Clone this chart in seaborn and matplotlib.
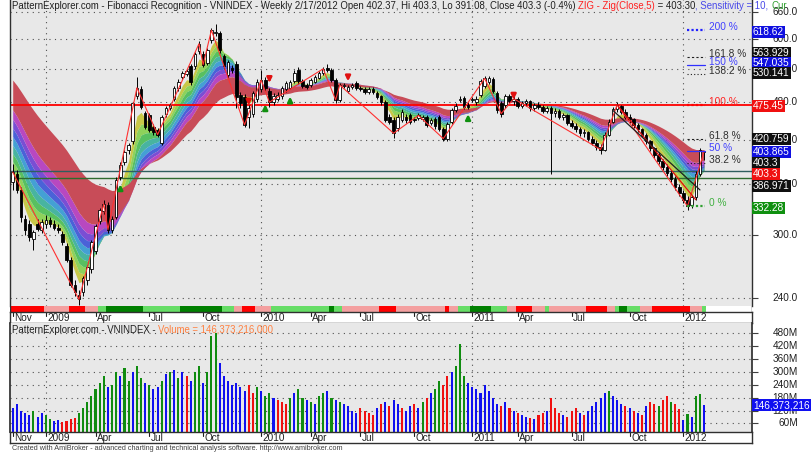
import numpy as np
import pandas as pd
import matplotlib
matplotlib.use("Agg")
import matplotlib.pyplot as plt
from matplotlib.ticker import NullLocator
import seaborn as sns

# ---------------- data (weekly bars, Nov 2008 - Feb 2012) ----------------
opens = [362,372,352,318,312,296,312,306,312,316,312,308,301,289,275,252,243,245,256,266,
         284,315,327,334,306,320,368,389,405,418,490,503,462,458,440,435,415,460,470,485,
         505,525,530,545,545,575,570,552,598,612,612,565,528,542,550,492,489,455,460,485,
         502,519,500,480,485,490,502,505,517,538,517,510,510,516,523,532,541,538,519,484,
         508,500,507,513,504,503,497,503,496,490,480,455,451,438,451,455,458,452,454,453,
         455,446,452,455,437,422,448,467,484,487,476,484,480,492,509,515,520,496,478,475,
         490,482,486,474,478,482,470,475,472,466,470,462,466,456,458,446,441,436,430,432,
         421,416,410,406,428,448,468,474,464,456,452,442,436,428,418,408,398,390,382,374,
         366,356,348,340,334,343,372,402.37]
highs = [386,378,356,322,316,306,318,318,322,320,316,312,304,292,278,256,247,260,270,295,
         312,330,340,337,321,368,388,405,416,480,525,508,466,462,444,438,458,473,478,508,
         520,536,540,550,574,596,575,582,624,632,618,570,558,548,556,498,494,475,500,520,
         538,525,504,495,497,508,518,519,537,543,521,513,522,528,535,544,550,542,522,514,
         514,510,514,517,508,506,506,506,499,493,484,460,455,460,468,460,462,456,462,459,
         458,454,456,458,440,448,470,478,490,490,480,488,490,520,526,527,524,500,482,494,
         494,490,488,482,486,484,478,480,476,474,474,470,468,462,460,450,446,440,436,434,
         426,420,414,432,452,472,480,476,468,460,454,446,438,430,420,410,402,392,386,378,
         370,360,352,344,346,376,408,403.3]
lows = [352,348,314,300,294,285,304,302,308,309,305,302,290,273,250,242,234,242,252,262,
        281,312,323,302,302,318,364,385,400,414,485,468,436,432,428,424,412,456,467,482,
        500,520,526,510,540,570,543,548,592,606,572,540,522,532,470,470,440,438,455,480,
        498,500,472,475,482,486,498,502,514,512,504,503,507,513,520,529,534,515,478,480,
        504,496,503,501,499,494,494,494,485,476,447,444,423,434,447,446,444,447,450,449,
        439,442,437,433,419,418,444,463,480,468,468,480,476,488,505,511,496,462,456,470,
        478,476,470,470,474,466,466,468,462,462,372,456,452,450,442,438,432,426,424,418,
        412,406,400,404,426,446,464,460,452,446,438,432,424,414,404,394,386,378,370,362,
        352,344,336,328,330,340,370,391.08]
closes = [375,352,320,305,298,303,307,314,316,312,308,305,293,275,252,245,239,258,268,293,
          310,328,335,306,318,365,385,403,413,478,505,472,440,435,432,428,455,470,475,505,
          515,533,535,515,570,590,548,577,619,616,577,545,553,538,488,478,443,470,495,515,
          519,505,480,490,492,505,514,515,533,517,508,507,519,525,532,540,537,519,484,510,
          510,506,510,505,503,497,503,497,488,480,451,448,430,456,464,450,448,451,458,455,
          442,451,441,437,422,445,467,474,486,472,472,485,486,518,522,523,500,467,461,490,
          482,486,474,478,482,470,475,472,466,470,462,466,456,458,446,441,436,430,432,421,
          416,410,406,428,448,468,475.45,464,456,452,442,436,428,418,408,398,390,382,374,366,
          356,348,340,332.28,343,372,404.9,403.3]
volumes = [130,150,120,110,100,120,90,110,
           100,80,70,75,
           65,70,80,85,
           110,130,160,190,220,250,
           280,230,240,300,280,320,260,300,330,270,250,240,220,
           230,260,290,300,310,270,300,280,
           260,300,330,250,300,470,480,340,
           280,260,240,250,230,210,240,200,
           230,210,190,200,180,170,160,150,
           180,200,220,180,170,160,150,190,200,210,180,170,160,
           150,140,120,110,130,120,110,100,
           130,150,160,140,170,150,130,120,140,
           150,130,160,180,200,220,260,240,280,300,330,430,280,
           250,230,220,200,240,210,180,150,
           140,160,130,120,110,100,90,85,80,
           100,110,120,180,130,110,100,90,120,130,110,100,
           120,140,160,180,200,210,190,170,150,
           140,130,120,110,100,140,160,
           150,140,170,190,160,150,128,
           76,104,90,188,197,146.4]
vol_colors = list("bbbbbgbb" "ggbb" "rrrr" "gggggg" "gbggbggbggbgb" "bgbgbgbr" "bggbgggb"
                  "bbbbbbrr" "gbggbrrr" "gbggbgbggbgbg" "bbbbrrrr" "brbrbbrbb" "rbgrbggrrbggg"
                  "bbbbbbbb" "rbrbrbbrb" "rrbrrrbrrrbr" "bbbbbgbbb" "rbrbrbr" "rgrrgrr" "bgbggb")

# ribbon: moving-average periods (fast -> slow) and their values at the first bar
ema_periods = [4, 6, 8, 10, 12, 14, 16, 18, 21, 34]
ribbon_start = [367, 378, 389, 400, 412, 425, 438, 452, 467, 519]

zz_idx = [0, 16, 22, 23, 30, 35, 45, 46, 48, 56, 60, 62, 75, 78, 79, 92, 98, 104, 114, 118, 121, 142, 146, 163, 167]
zz_val = [375, 239, 335, 306, 505, 428, 590, 548, 619, 443, 519, 480, 540, 484, 510, 430, 458, 422, 522, 461, 486, 406, 475.45, 332.28, 403.3]

# Fibonacci channel drawn across the last swing (bar index, price)
chan_red = ([146, 165], [475.45, 340])
chan_blk = ([145, 166], [466, 352])

strip_codes = ['R','P','R','P','L','G','L','G','L','P','R','P','L','G','L','P','R','P','R','P','L','G','L',
               'P','R','P','L','P','R','P','L','G','L','P','R','P','L']
strip_lens = [8,6,4,3,2,9,9,10,3,2,3,4,14,1,2,9,4,12,1,2,3,5,4,2,4,3,1,9,5,2,1,2,3,3,9,3,1]

fib_pct = ["0 %", "38.2 %", "50 %", "61.8 %", "100 %", "138.2 %", "150 %", "161.8 %", "200 %"]
fib_val = [332.28, 386.971, 403.865, 420.759, 475.45, 530.141, 547.035, 563.929, 618.62]

support_vals = [376.4, 367.1]

up_idx = [26, 61, 67, 110]
up_val = [352, 467, 480, 451]
dn_idx = [57, 62, 81, 121]
dn_val = [484, 524, 527, 494]

date_idx = [0, 8, 20, 33, 46, 60, 72, 84, 97, 111, 122, 135, 149, 162]
date_lab = ["Nov", "2009", "Apr", "Jul", "Oct", "2010", "Apr", "Jul", "Oct", "2011", "Apr", "Jul", "Oct", "2012"]
year_idx = [8, 60, 111, 162]

price_ticks = [240, 300, 360, 420, 480, 540, 600, 660]
vol_ticks = [60, 120, 180, 240, 300, 360, 420, 480]

# ---------------- style ----------------
sns.set_theme(style="white")
plt.rcParams['font.family'] = ['Liberation Sans', 'DejaVu Sans']

W, H = 812, 454
PANEL = '#e8e8e8'
GRID = dict(color='#505050', lw=0.8, linestyle=(0, (1, 4)))
fig = plt.figure(figsize=(W / 100, H / 100), dpi=100)
fig.patch.set_facecolor('white')

def rect(x0, y0, x1, y1):
    return [x0 / W, 1 - y1 / H, (x1 - x0) / W, (y1 - y0) / H]

n = len(closes)
idx = np.arange(n)
XL = (10 - 12.7) / 4.14
XR = (752 - 12.7) / 4.14
P_TOP = 600 * np.exp(39 / 283)
P_BOT = 600 * np.exp((39 - 306) / 283)

# ---------------- price panel ----------------
ax = fig.add_axes(rect(10, 0, 752, 306))
ax.set_facecolor(PANEL)
ax.set_yscale('log')
ax.set_xlim(XL, XR)
ax.set_ylim(P_BOT, P_TOP)
ax.yaxis.set_minor_locator(NullLocator())
ax.set_yticks(price_ticks)
ax.tick_params(axis='y', which='both', left=False, right=True, labelleft=False, labelright=False,
               length=4, width=0.8, color='#404040', direction='out')
ax.set_xticks([])
for s in ['top', 'bottom']:
    ax.spines[s].set_visible(False)
for s in ['left', 'right']:
    ax.spines[s].set_color('#303030')
    ax.spines[s].set_linewidth(1)
for v in price_ticks:
    ax.axhline(v, zorder=0.5, **GRID)
for i in year_idx:
    ax.axvline(i, zorder=0.5, **GRID)

# ribbon
ribbon_colors = ['#c8c848', '#8ed25a', '#58c060', '#48b4a0', '#44a0d4', '#4a62d8',
                 '#7a4ed4', '#b848c0', '#c84c58']
cl = np.array(closes, float)
emas = np.zeros((len(ema_periods), n))
for k, (per, st) in enumerate(zip(ema_periods, ribbon_start)):
    a = 2.0 / (per + 1)
    v = st
    for i in range(n):
        if i > 0:
            v = v + a * (cl[i] - v)
        emas[k, i] = v
for k in range(len(ema_periods) - 1):
    ax.fill_between(idx, emas[k], emas[k + 1], color=ribbon_colors[k], lw=0, zorder=1)

# full-width lines
ax.axhline(fib_val[4], color='#ff0000', lw=1.3, zorder=2)
ax.axhline(support_vals[0], color='#2f5f5f', lw=1.0, zorder=2)
ax.axhline(support_vals[1], color='#2e6b2e', lw=1.0, zorder=2)

# candles
op = np.array(opens, float)
hi = np.array(highs, float)
lo = np.array(lows, float)
ax.vlines(idx, lo, hi, color='black', lw=0.7, zorder=3)
up = cl >= op
body_lo = np.minimum(op, cl)
body_h = np.maximum(np.abs(cl - op), body_lo * 0.003)
ax.bar(idx[up], body_h[up], bottom=body_lo[up], width=0.62, color='white', edgecolor='black', lw=0.6, zorder=4)
ax.bar(idx[~up], body_h[~up], bottom=body_lo[~up], width=0.62, color='black', edgecolor='black', lw=0.6, zorder=4)

# zigzag
zz = pd.DataFrame({'i': zz_idx, 'v': zz_val})
sns.lineplot(data=zz, x='i', y='v', ax=ax, color='#ff3030', lw=0.8, zorder=5, legend=False)
ax.plot(*chan_red, color='#e01010', lw=0.9, zorder=5)
ax.plot(*chan_blk, color='#202020', lw=0.9, zorder=5)
ax.set_xlabel('')
ax.set_ylabel('')

# arrows
for i, v in zip(up_idx, up_val):
    ax.annotate('', xy=(i, v * 1.03), xytext=(i, v / 1.01), zorder=6,
                arrowprops=dict(arrowstyle='-|>', color='#109010', lw=1.8, mutation_scale=7))
for i, v in zip(dn_idx, dn_val):
    ax.annotate('', xy=(i, v / 1.03), xytext=(i, v * 1.01), zorder=6,
                arrowprops=dict(arrowstyle='-|>', color='#e01010', lw=1.8, mutation_scale=7))

# fib levels at right
fib_style = [('#30a030', (0, (1, 1)), 1.6), ('#202020', (0, (1, 2)), 0.8), ('#3030ff', '-', 0.9),
             ('#202020', (0, (2, 2)), 0.8), ('#ff0000', (0, (1, 1)), 1.6), ('#202020', (0, (1, 2)), 0.8),
             ('#3030ff', '-', 0.9), ('#202020', (0, (2, 2)), 0.8), ('#2020ff', (0, (1, 1)), 1.6)]
fib_text_col = ['#40b040', '#303030', '#4040ff', '#303030', '#ff2020', '#303030', '#4040ff', '#303030', '#4040ff']
xa = (687 - 12.7) / 4.14
xb = (705 - 12.7) / 4.14
xt = (709 - 12.7) / 4.14
for v, lab, (c, ls, lw), tc in zip(fib_val, fib_pct, fib_style, fib_text_col):
    ax.plot([xa, xb], [v, v], color=c, linestyle=ls, lw=lw, zorder=6)
    ax.text(xt, v * np.exp(3 / 283), lab, color=tc, fontsize=7.3, va='center', ha='left', zorder=7)

# right axis tick labels
ytr = ax.get_yaxis_transform()
xlab = (798 - 10) / 742
for v in price_ticks:
    ax.text(xlab, v, f"{v:.1f}", transform=ytr, ha='right', va='center', fontsize=7.2,
            color='#202020', clip_on=False)

# boxed value labels (value, colour, pixel y)
box_vals = [("618.62", '#1010e0', 32), ("563.929", '#101010', 53), ("547.035", '#1010e0', 63),
            ("530.141", '#101010', 73), ("475.45", '#f01010', 106), ("420.759", '#101010', 139),
            ("403.865", '#1010e0', 152), ("403.3", '#101010', 163), ("403.3", '#f01010', 174),
            ("386.971", '#101010', 186), ("332.28", '#109010', 208)]
for txt, c, pyy in box_vals:
    fig.text(753 / W, 1 - pyy / H, txt, color='white', fontsize=7.3, ha='left', va='center',
             bbox=dict(boxstyle='square,pad=0.12', fc=c, ec='none'))

# ---------------- colour strip ----------------
axs = fig.add_axes(rect(10, 306, 752, 312))
axs.set_xlim(XL, XR)
axs.set_ylim(0, 1)
axs.set_facecolor(PANEL)
strip_map = {'R': '#ff0000', 'P': '#f4a0a0', 'L': '#66dd66', 'G': '#008000'}
pos = 0
for c, L in zip(strip_codes, strip_lens):
    axs.add_patch(plt.Rectangle((pos - 0.5, 0), L, 1, color=strip_map[c], lw=0))
    pos += L
axs.axis('off')
axs.add_line(plt.Line2D([0, 0], [0, 1], transform=axs.transAxes, color='#303030', lw=1))
axs.add_line(plt.Line2D([1, 1], [0, 1], transform=axs.transAxes, color='#303030', lw=1))

def date_axis(y0, y1):
    a = fig.add_axes(rect(10, y0, 752, y1))
    a.set_xlim(XL, XR)
    a.set_ylim(0, 1)
    a.set_facecolor('white')
    a.set_xticks([])
    a.set_yticks([])
    for s in a.spines.values():
        s.set_color('#303030')
        s.set_linewidth(1)
    for i, lab in zip(date_idx, date_lab):
        a.plot([i, i], [1, 0.65], color='#202020', lw=0.8)
        a.text(i + 0.35, 0.45, lab, fontsize=7.2, ha='left', va='center', color='#202020')
    return a

date_axis(312, 323)

# ---------------- volume panel ----------------
axv = fig.add_axes(rect(10, 323, 752, 432))
axv.set_facecolor(PANEL)
for v in vol_ticks:
    axv.axhline(v, zorder=0.5, **GRID)
for i in year_idx:
    axv.axvline(i, zorder=0.5, **GRID)
vdf = pd.DataFrame({'i': idx, 'vol': volumes, 'c': vol_colors})
sns.barplot(data=vdf, x='i', y='vol', hue='c', palette={'g': '#108c10', 'b': '#1010f0', 'r': '#f01010'},
            native_scale=True, dodge=False, width=0.5, errorbar=None, legend=False, ax=axv,
            saturation=1, linewidth=0, edgecolor='none', zorder=2)
axv.set_xlim(XL, XR)
axv.set_ylim(20, 529)
axv.set_xlabel('')
axv.set_ylabel('')
axv.set_xticks([])
axv.set_yticks(vol_ticks)
axv.tick_params(axis='y', left=False, right=True, labelleft=False, labelright=False,
                length=4, width=0.8, color='#404040', direction='out')
for s in ['top', 'bottom']:
    axv.spines[s].set_visible(False)
for s in ['left', 'right']:
    axv.spines[s].set_color('#303030')
ytv = axv.get_yaxis_transform()
for v in vol_ticks:
    axv.text(xlab, v, f"{v}M", transform=ytv, ha='right', va='center', fontsize=7.2, color='#202020', clip_on=False)
fig.text(753 / W, 1 - 405 / H, "146,373,216", color='white', fontsize=7.3, ha='left', va='center',
         bbox=dict(boxstyle='square,pad=0.12', fc='#1010f0', ec='none'))

date_axis(432, 443)

# ---------------- titles ----------------
renderer = fig.canvas.get_renderer()

def colored_line(x_px, y_px, parts, fs):
    prefix = ""
    for s, c in parts:
        wpx = 0
        if prefix:
            t = fig.text(0, 0, prefix + "|", fontsize=fs)
            wbar = fig.text(0, 0, "|", fontsize=fs)
            wpx = t.get_window_extent(renderer).width - wbar.get_window_extent(renderer).width
            t.remove()
            wbar.remove()
        fig.text((x_px + wpx) / W, 1 - y_px / H, s, color=c, fontsize=fs, ha='left', va='center')
        prefix += s

colored_line(12, 6, [("PatternExplorer.com - Fibonacci Recognition - VNINDEX - Weekly 2/17/2012 Open 402.37, Hi 403.3, Lo 391.08, Close 403.3 (-0.4%) ", '#202020'),
                     ("ZIG - Zig(Close,5)", '#ff2020'), (" = 403.30", '#202020'),
                     (", Sensitivity = 10, ", '#4848e8'), ("Cur", '#30a030')], 6.9)
colored_line(12, 330, [("PatternExplorer.com - VNINDEX - ", '#202020'),
                       ("Volume = 146,373,216.000", '#ff8040')], 6.9)
fig.text(12 / W, 1 - 448 / H, "Created with AmiBroker - advanced charting and technical analysis software. http://www.amibroker.com",
         fontsize=5.2, color='#404040', ha='left', va='center')

fig.savefig("out.png", dpi=100, facecolor='white')
